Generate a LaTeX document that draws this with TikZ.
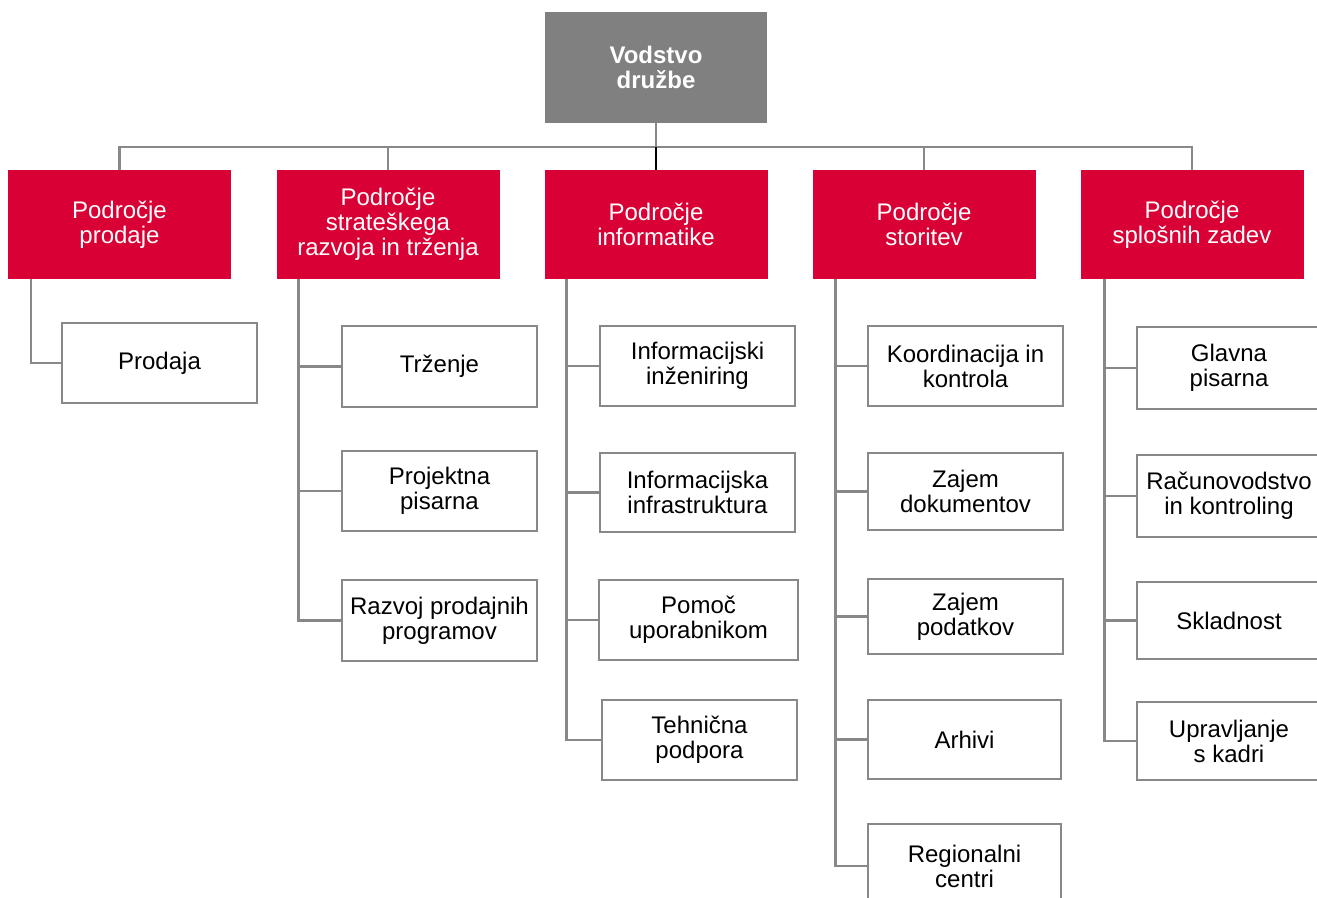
\documentclass[tikz,border=0pt]{standalone}
\usepackage{fontspec}
\setmainfont{Liberation Sans}
\definecolor{topgray}{RGB}{128,128,128}
\definecolor{linegray}{RGB}{136,136,136}
\definecolor{areared}{RGB}{216,0,52}
\begin{document}
\begin{tikzpicture}[x=1pt,y=-1pt,
  every node/.style={inner sep=0pt, align=center, font=\fontsize{24}{25}\selectfont},
  topbox/.style={fill=topgray, text=white, font=\fontsize{24}{25}\selectfont\bfseries, minimum width=222pt, minimum height=111pt},
  areabox/.style={fill=areared, text=white, minimum width=223pt, minimum height=109pt},
  unitbox/.style={draw=linegray, line width=2.5pt, fill=white, text=black},
  conn/.style={draw=linegray, line width=2.5pt},
  blackconn/.style={draw=black, line width=2.5pt}]
\useasboundingbox (0,0) rectangle (1317,897);
\clip (0,0) rectangle (1317,897);

\node[topbox] (top) at (656,67.5) {Vodstvo\\družbe};

\node[areabox] (r1) at (119.5,224.5) {Področje\\prodaje};
\node[areabox] (r2) at (388,224.5) {Področje\\strateškega\\razvoja in trženja};
\node[areabox] (r3) at (656,224.5) {Področje\\informatike};
\node[areabox] (r4) at (924,224.5) {Področje\\storitev};
\node[areabox] (r5) at (1192,224.5) {Področje\\splošnih zadev};

\coordinate (bus) at (656,147);
\draw[conn] (top.south) -- (bus);
\draw[conn] (r1.north) |- (bus) -| (r5.north);
\draw[conn] (r2.north) -- (r2.north |- bus);
\draw[conn] (r4.north) -- (r4.north |- bus);
\draw[blackconn] (bus) -- (r3.north);

% column 1
\node[unitbox, minimum width=195pt, minimum height=80pt] (c11) at (159.5,363) {Prodaja};
% column 2
\node[unitbox, minimum width=195pt, minimum height=81pt] (c21) at (439.5,366.5) {Trženje};
\node[unitbox, minimum width=195pt, minimum height=80pt] (c22) at (439.5,491) {Projektna\\pisarna};
\node[unitbox, minimum width=195pt, minimum height=81pt] (c23) at (439.5,620.5) {Razvoj prodajnih\\programov};
% column 3
\node[unitbox, minimum width=195pt, minimum height=80pt] (c31) at (697.5,366) {Informacijski\\inženiring};
\node[unitbox, minimum width=195pt, minimum height=79pt] (c32) at (697.5,492.5) {Informacijska\\infrastruktura};
\node[unitbox, minimum width=199pt, minimum height=80pt] (c33) at (698.5,620) {Pomoč\\uporabnikom};
\node[unitbox, minimum width=195pt, minimum height=80pt] (c34) at (699.5,740) {Tehnična\\podpora};
% column 4
\node[unitbox, minimum width=195pt, minimum height=80pt] (c41) at (965.5,366) {Koordinacija in\\kontrola};
\node[unitbox, minimum width=195pt, minimum height=77pt] (c42) at (965.5,491.5) {Zajem\\dokumentov};
\node[unitbox, minimum width=195pt, minimum height=75pt] (c43) at (965.5,616.5) {Zajem\\podatkov};
\node[unitbox, minimum width=193pt, minimum height=79pt] (c44) at (964.5,739.5) {Arhivi};
\node[unitbox, minimum width=193pt, minimum height=84pt] (c45) at (964.5,866) {Regionalni\\centri};
% column 5
\node[unitbox, minimum width=184pt, minimum height=82pt] (c51) at (1229,368) {Glavna\\pisarna};
\node[unitbox, minimum width=184pt, minimum height=82pt] (c52) at (1229,496) {Računovodstvo\\in kontroling};
\node[unitbox, minimum width=184pt, minimum height=77pt] (c53) at (1229,620.5) {Skladnost};
\node[unitbox, minimum width=184pt, minimum height=78pt] (c54) at (1229,741) {Upravljanje\\s kadri};

% trunks
\coordinate (t1) at ([xshift=23pt]r1.south west);
\coordinate (t2) at ([xshift=22pt]r2.south west);
\coordinate (t3) at ([xshift=22pt]r3.south west);
\coordinate (t4) at ([xshift=23pt]r4.south west);
\coordinate (t5) at ([xshift=24pt]r5.south west);

\begin{scope}[on background layer/.style={}]
\end{scope}
\draw[conn] (t1) |- (c11.west);
\foreach \c in {c21,c22,c23} \draw[conn] (t2) |- (\c.west);
\foreach \c in {c31,c32,c33,c34} \draw[conn] (t3) |- (\c.west);
\foreach \c in {c41,c42,c43,c44,c45} \draw[conn] (t4) |- (\c.west);
\foreach \c in {c51,c52,c53,c54} \draw[conn] (t5) |- (\c.west);
\end{tikzpicture}
\end{document}
